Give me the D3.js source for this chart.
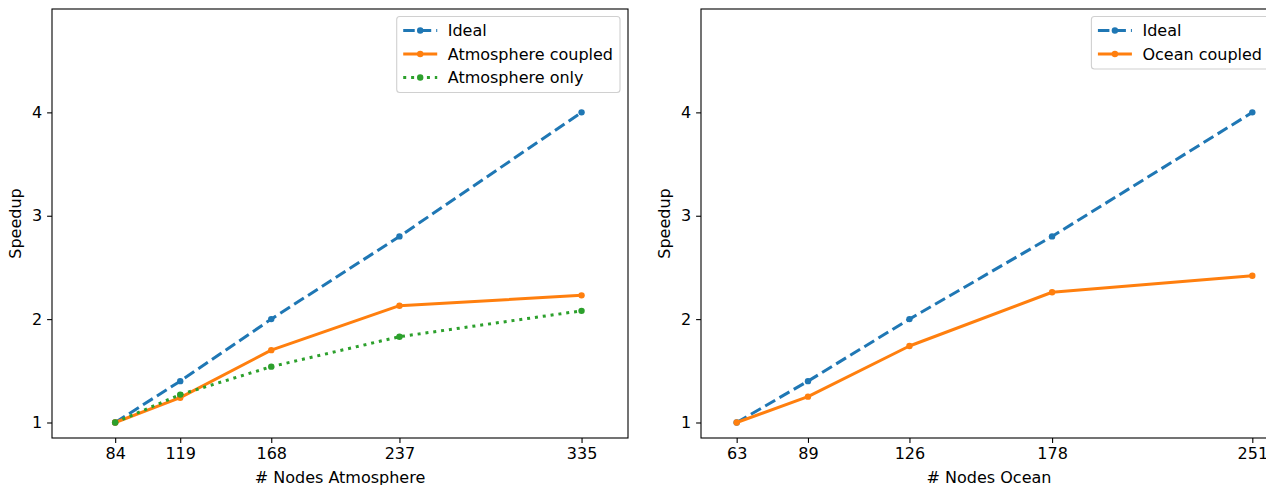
<!DOCTYPE html>
<html>
<head>
<meta charset="utf-8">
<script src="https://cdn.jsdelivr.net/npm/d3@7/dist/d3.min.js"></script>
<style>
  html, body { margin: 0; padding: 0; background: #fff; }
  svg { display: block; font-family: "DejaVu Sans", sans-serif; }
</style>
</head>
<body>
<svg id="chart" width="1266" height="485"></svg>
<script>
"use strict";

// values
const atmNodes = [84, 119, 168, 237, 335];
const atmIdeal = [1, 1.4, 2, 2.8, 4];
const atmCoupled = [1, 1.24, 1.7, 2.13, 2.23];
const atmOnly = [1, 1.27, 1.54, 1.83, 2.08];

const ocnNodes = [63, 89, 126, 178, 251];
const ocnIdeal = [1, 1.4, 2, 2.8, 4];
const ocnCoupled = [1, 1.25, 1.74, 2.26, 2.42];

const yTicks = [1, 2, 3, 4];

const FS = 16;
const LW = 3;
const COLORS = { ideal: "#1f77b4", coupled: "#ff7f0e", only: "#2ca02c" };
const DASH = { ideal: "11.5,5", coupled: null, only: "3,4.9" };

const svg = d3.select("#chart");

const panels = [
  {
    left: 52, xDomain: [50, 360], nodes: atmNodes, xLabel: "# Nodes Atmosphere",
    series: [
      { name: "Ideal", kind: "ideal", values: atmIdeal },
      { name: "Atmosphere coupled", kind: "coupled", values: atmCoupled },
      { name: "Atmosphere only", kind: "only", values: atmOnly },
    ],
  },
  {
    left: 701, xDomain: [50, 260], nodes: ocnNodes, xLabel: "# Nodes Ocean",
    series: [
      { name: "Ideal", kind: "ideal", values: ocnIdeal },
      { name: "Ocean coupled", kind: "coupled", values: ocnCoupled },
    ],
  },
];

const axTop = 9, axBottom = 438, axWidth = 576;

panels.forEach(function drawPanel(p) {
  const x = d3.scaleLinear().domain(p.xDomain).range([p.left, p.left + axWidth]);
  const y = d3.scaleLinear().domain([0.85, 5]).range([axBottom, axTop]);
  const g = svg.append("g");

  const xAxis = g.append("g").attr("transform", "translate(0," + axBottom + ")")
    .call(d3.axisBottom(x).tickValues(p.nodes).tickFormat(d3.format("d")).tickSize(4.9).tickPadding(4.5));
  const yAxis = g.append("g").attr("transform", "translate(" + p.left + ",0)")
    .call(d3.axisLeft(y).tickValues(yTicks).tickFormat(d3.format("d")).tickSize(4.9).tickPadding(4.9));
  [xAxis, yAxis].forEach(function styleAxis(a) {
    a.select(".domain").remove();
    a.selectAll("line").attr("stroke", "#000").attr("stroke-width", 1.1);
    a.selectAll("text").attr("font-size", FS).attr("font-family", "DejaVu Sans").attr("fill", "#000");
  });

  g.append("text").attr("x", x((p.xDomain[0] + p.xDomain[1]) / 2)).attr("y", 483)
    .attr("text-anchor", "middle").attr("font-size", FS).text(p.xLabel);
  g.append("text").attr("transform", "translate(" + (p.left - 31) + "," + ((axTop + axBottom) / 2) + ") rotate(-90)")
    .attr("text-anchor", "middle").attr("font-size", FS).text("Speedup");

  const line = d3.line().x(function lx(d) { return x(d[0]); }).y(function ly(d) { return y(d[1]); });
  const plot = g.append("g");
  p.series.forEach(function drawSeries(s) {
    const pts = p.nodes.map(function pair(n, i) { return [n, s.values[i]]; });
    plot.append("path").datum(pts).attr("d", line).attr("fill", "none")
      .attr("stroke", COLORS[s.kind]).attr("stroke-width", LW)
      .attr("stroke-dasharray", DASH[s.kind]).attr("stroke-linejoin", "round").attr("stroke-linecap", "butt");
    plot.selectAll(null).data(pts).join("circle")
      .attr("cx", function cx(d) { return x(d[0]); }).attr("cy", function cy(d) { return y(d[1]); })
      .attr("r", 3.2).attr("fill", COLORS[s.kind]);
  });

  g.append("rect").attr("x", p.left).attr("y", axTop).attr("width", axWidth).attr("height", axBottom - axTop)
    .attr("fill", "none").attr("stroke", "#000").attr("stroke-width", 1.1);

  // legend, upper right
  const rowH = 23.5, handle = 34, textX = 51;
  const legend = g.append("g");
  const tmp = legend.append("text").attr("font-size", FS);
  const textW = d3.max(p.series, function w(s) { tmp.text(s.name); return tmp.node().getComputedTextLength(); });
  tmp.remove();
  const boxW = textX + textW + 7;
  const boxH = rowH * p.series.length + 5.5;
  const bx = p.left + axWidth - 8 - boxW, by = axTop + 7.5;
  legend.append("rect").attr("x", bx).attr("y", by).attr("width", boxW).attr("height", boxH)
    .attr("rx", 3).attr("fill", "#fff").attr("fill-opacity", 0.8).attr("stroke", "#d0d0d0").attr("stroke-width", 1.1);
  p.series.forEach(function drawEntry(s, i) {
    const cy = by + 14 + rowH * i;
    const hx = bx + 6.5;
    legend.append("line").attr("x1", hx).attr("x2", hx + handle).attr("y1", cy).attr("y2", cy)
      .attr("stroke", COLORS[s.kind]).attr("stroke-width", LW).attr("stroke-dasharray", DASH[s.kind]);
    legend.append("circle").attr("cx", hx + handle / 2).attr("cy", cy).attr("r", 3.2).attr("fill", COLORS[s.kind]);
    legend.append("text").attr("x", bx + textX).attr("y", cy).attr("dy", "0.36em")
      .attr("font-size", FS).text(s.name);
  });
});
</script>
</body>
</html>
